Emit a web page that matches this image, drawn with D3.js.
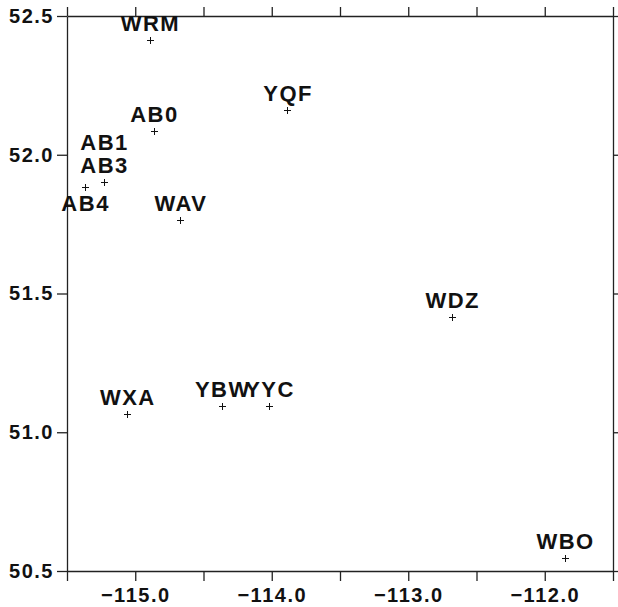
<!DOCTYPE html>
<html>
<head>
<meta charset="utf-8">
<script src="https://cdn.jsdelivr.net/npm/d3@7"></script>
<style>
  body { margin: 0; background: #fff; }
  svg { display: block; }
</style>
</head>
<body>
<div id="chart"></div>
<script>
// station data
const stations = ['WRM', 'AB0', 'YQF', 'AB1', 'AB3', 'AB4', 'WAV', 'WDZ', 'WXA', 'YBW', 'YYC', 'WBO'];
const lons = [-114.894, -114.865, -113.885, -115.23, -115.23, -115.369, -114.67, -112.68, -115.06, -114.364, -114.018, -111.853];
const lats = [52.414, 52.087, 52.161, 51.903, 51.903, 51.885, 51.765, 51.414, 51.065, 51.095, 51.095, 50.548];
// where the label sits relative to its marker
const labelPlace = ['above', 'above', 'above', 'above2', 'above', 'below', 'above', 'above', 'above', 'above', 'above', 'above'];

const xTicks = [-115.5, -115.0, -114.5, -114.0, -113.5, -113.0, -112.5, -112.0, -111.5];
const xLabelled = [-115.0, -114.0, -113.0, -112.0];
const yTicks = [50.5, 51.0, 51.5, 52.0, 52.5];

const width = 618, height = 607;
const margin = { top: 16, right: 5, bottom: 36, left: 67 };
const lineColor = '#222';
const font = '"Liberation Sans", Arial, sans-serif';

const svg = d3.select('#chart').append('svg')
  .attr('width', width)
  .attr('height', height);

const x_scale = d3.scaleLinear()
  .domain([-115.5, -111.5])
  .range([margin.left, width - margin.right]);

const y_scale = d3.scaleLinear()
  .domain([50.5, 52.5])
  .range([height - margin.bottom, margin.top]);

function styleAxis(g) {
  g.select('.domain').attr('stroke', lineColor).attr('stroke-width', 1.3);
  g.selectAll('.tick line').attr('stroke', lineColor).attr('stroke-width', 1.3);
  g.selectAll('text')
    .style('font-family', font)
    .style('font-weight', 'bold')
    .style('font-size', '20px')
    .style('letter-spacing', '1.5px')
    .attr('fill', '#111');
}

// bottom
svg.append('g')
  .attr('transform', `translate(0, ${y_scale(50.5)})`)
  .call(d3.axisBottom(x_scale)
    .tickValues(xTicks)
    .tickSize(10)
    .tickSizeOuter(0)
    .tickPadding(7)
    .tickFormat(d => xLabelled.includes(d) ? d3.format('.1f')(d) : ''))
  .call(styleAxis);

// top
svg.append('g')
  .attr('transform', `translate(0, ${y_scale(52.5)})`)
  .call(d3.axisTop(x_scale).tickValues(xTicks).tickSize(9).tickSizeOuter(0).tickFormat(''))
  .call(styleAxis);

// left
svg.append('g')
  .attr('transform', `translate(${x_scale(-115.5)}, 0)`)
  .call(d3.axisLeft(y_scale)
    .tickValues(yTicks)
    .tickSize(10)
    .tickSizeOuter(0)
    .tickPadding(3)
    .tickFormat(d3.format('.1f')))
  .call(styleAxis);

// right
svg.append('g')
  .attr('transform', `translate(${x_scale(-111.5)}, 0)`)
  .call(d3.axisRight(y_scale).tickValues(yTicks).tickSize(8).tickSizeOuter(0).tickFormat(''))
  .call(styleAxis);

const labelDy = { above: -9, above2: -32, below: 24 };

const pts = stations.map((s, i) => ({ name: s, lon: lons[i], lat: lats[i], place: labelPlace[i] }));

// markers
svg.append('g')
  .selectAll('path')
  .data(pts)
  .join('path')
  .attr('d', d => {
    const cx = Math.round(x_scale(d.lon)) + 0.5, cy = Math.round(y_scale(d.lat)) + 0.5;
    return `M${cx - 3.5},${cy}H${cx + 3.5}M${cx},${cy - 3.5}V${cy + 3.5}`;
  })
  .attr('stroke', '#111')
  .attr('stroke-width', 1);

// labels
svg.append('g')
  .selectAll('text')
  .data(pts)
  .join('text')
  .attr('x', d => x_scale(d.lon) + 0.75)
  .attr('y', d => y_scale(d.lat) + labelDy[d.place])
  .attr('text-anchor', 'middle')
  .style('font-family', font)
  .style('font-weight', 'bold')
  .style('font-size', '22px')
  .style('letter-spacing', '1.5px')
  .attr('fill', '#111')
  .text(d => d.name);
</script>
</body>
</html>
